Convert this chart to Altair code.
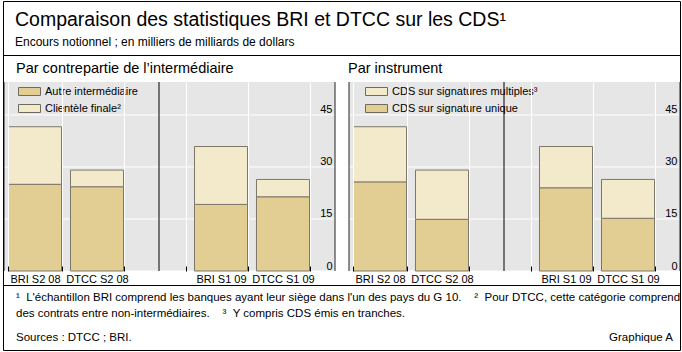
import altair as alt
import pandas as pd

# ---------------- data ----------------
cats = ["BRI S2 08", "DTCC S2 08", " ", "BRI S1 09", "DTCC S1 09"]
periods = ["BRI S2 08", "DTCC S2 08", "BRI S1 09", "DTCC S1 09"]

left_series = ["Autre intermédiaire", "Clientèle finale²"]
autre = [25.0, 24.3, 19.2, 21.4]
clientele = [16.6, 4.8, 16.7, 5.0]

right_series = ["CDS sur signatures multiples³", "CDS sur signature unique"]
multiples = [15.9, 14.2, 11.9, 11.2]
unique = [25.7, 14.9, 24.0, 15.2]

y_ticks = [0, 15, 30, 45]

GAP = "\u00a0\u00a0\u00a0"
title_txt = "Comparaison des statistiques BRI et DTCC sur les CDS¹"
subtitle_txt = "Encours notionnel ; en milliers de milliards de dollars"
left_title = "Par contrepartie de l’intermédiaire"
right_title = "Par instrument"
foot1 = "¹\u00a0\u00a0L'échantillon BRI comprend les banques ayant leur siège dans l'un des pays du G 10." + GAP + " ²\u00a0\u00a0Pour DTCC, cette catégorie comprend"
foot2 = "des contrats entre non-intermédiaires." + GAP + " ³\u00a0\u00a0Y compris CDS émis en tranches."
sources = "Sources : DTCC ; BRI."
graph_id = "Graphique A"

# ---------------- style ----------------
W, H = 331, 189
DARK, LIGHT = "#E2CD92", "#F3EACB"
BG = "#E6E6E6"
FONT = "Liberation Sans"

left_df = pd.DataFrame(
    [{"cat": p, "s": left_series[0], "v": a, "o": 0} for p, a in zip(periods, autre)]
    + [{"cat": p, "s": left_series[1], "v": c, "o": 1} for p, c in zip(periods, clientele)]
)
right_df = pd.DataFrame(
    [{"cat": p, "s": right_series[1], "v": u, "o": 0} for p, u in zip(periods, unique)]
    + [{"cat": p, "s": right_series[0], "v": m, "o": 1} for p, m in zip(periods, multiples)]
)
one = pd.DataFrame({"k": [0]})
sep_df = pd.DataFrame({"cat": [" "]})
grid_df = pd.DataFrame({"t": y_ticks})

x_scale = alt.Scale(domain=cats, range=[0, 310], paddingInner=0.145, paddingOuter=0.0725)
x_axis = alt.Axis(
    title=None, tickBand="extent", grid=True, gridColor="white", gridWidth=1,
    domain=False, ticks=True, tickColor="black", tickSize=5, offset=-5, zindex=1,
    labelPadding=2, labelAngle=0, labelFontSize=11, labelColor="black", labelFont=FONT,
)
y_scale = alt.Scale(domain=[0, 54.5], nice=False, zero=True)
y_axis = alt.Axis(
    orient="right", values=y_ticks, title=None, grid=False, zindex=1,
    domain=False, ticks=False, labelAlign="right", labelPadding=-3, labelBaseline="bottom",
    labelFontSize=11, labelColor="black", labelFont=FONT,
)


def txt(s, x, y, size, align="left"):
    return alt.Chart(one).mark_text(
        text=s, align=align, baseline="alphabetic", fontSize=size, color="black", font=FONT
    ).encode(x=alt.value(x), y=alt.value(y))


def hrule(x1, x2, y):
    return alt.Chart(one).mark_rule(color="black", strokeWidth=1).encode(
        x=alt.value(x1), x2=alt.value(x2), y=alt.value(y)
    )


def vrule(x, y1, y2, color="#222222"):
    return alt.Chart(one).mark_rule(color=color, strokeWidth=1).encode(
        x=alt.value(x), y=alt.value(y1), y2=alt.value(y2)
    )


def panel(df, series, colors, legend_x, ptitle):
    bg = alt.Chart(one).mark_rect(color=BG).encode(
        x=alt.value(0), x2=alt.value(W), y=alt.value(0), y2=alt.value(H)
    )
    hgrid = alt.Chart(grid_df).mark_rule(color="white", strokeWidth=1).encode(
        y=alt.Y("t:Q", scale=y_scale, axis=y_axis), x=alt.value(0), x2=alt.value(W)
    )
    bars = alt.Chart(df).mark_bar(stroke="#7d776a", strokeWidth=1).encode(
        x=alt.X("cat:N", scale=x_scale, axis=x_axis, sort=cats),
        y=alt.Y("v:Q", stack="zero", scale=y_scale, axis=y_axis),
        color=alt.Color(
            "s:N",
            scale=alt.Scale(domain=series, range=colors),
            legend=alt.Legend(
                title=None, orient="none", legendX=legend_x, legendY=4, padding=0,
                symbolType="M-2.2,-0.8H2.2V0.8H-2.2Z", symbolSize=100,
                symbolStrokeColor="#6e6a60", symbolStrokeWidth=1, symbolOpacity=1,
                labelFontSize=11, labelFont=FONT, labelColor="black", labelOffset=10,
                rowPadding=4,
            ),
        ),
        order=alt.Order("o:Q"),
    )
    sep = alt.Chart(sep_df).mark_rule(color="black", strokeWidth=1).encode(
        x=alt.X("cat:N", scale=x_scale, axis=x_axis, sort=cats)
    )
    edges = [vrule(0, 0, H), vrule(W, 0, H)]
    title = txt(ptitle, -1 if ptitle == right_title else 12, -9, 14.5)
    return [bg, hgrid, bars, sep] + edges + [title]


left_layers = panel(left_df, left_series, [DARK, LIGHT], 20, left_title)
right_layers = panel(right_df, right_series, [LIGHT, DARK], 22, right_title)

frame = alt.Chart(one).mark_rect(filled=False, stroke="black", strokeWidth=1).encode(
    x=alt.value(-0.5), x2=alt.value(676.5), y=alt.value(-80.5), y2=alt.value(268.5)
)

left = alt.layer(
    *left_layers,
    frame,
    txt(title_txt, 11, -56, 19.5),
    txt(subtitle_txt, 11, -36, 12),
    hrule(-0.5, 676.5, -26.5),
    hrule(-0.5, 676.5, 203.5),
    txt(foot1, 12, 219, 11.5),
    txt(foot2, 12, 235, 11.5),
    txt(sources, 12, 259, 11.5),
    txt(graph_id, 669, 259, 11.5, align="right"),
).properties(width=W, height=H)

right = alt.layer(*right_layers).properties(width=W, height=H)

chart = alt.hconcat(left, right, spacing=14, bounds="flush").resolve_scale(
    color="independent", x="independent", y="independent"
).properties(
    padding={"left": 2, "top": 0, "right": 0, "bottom": 0},
    background="white",
).configure(
    font=FONT,
    view=alt.ViewConfig(stroke="transparent"),
)

chart.save("out.html", embed_options={"renderer": "svg", "actions": False})
